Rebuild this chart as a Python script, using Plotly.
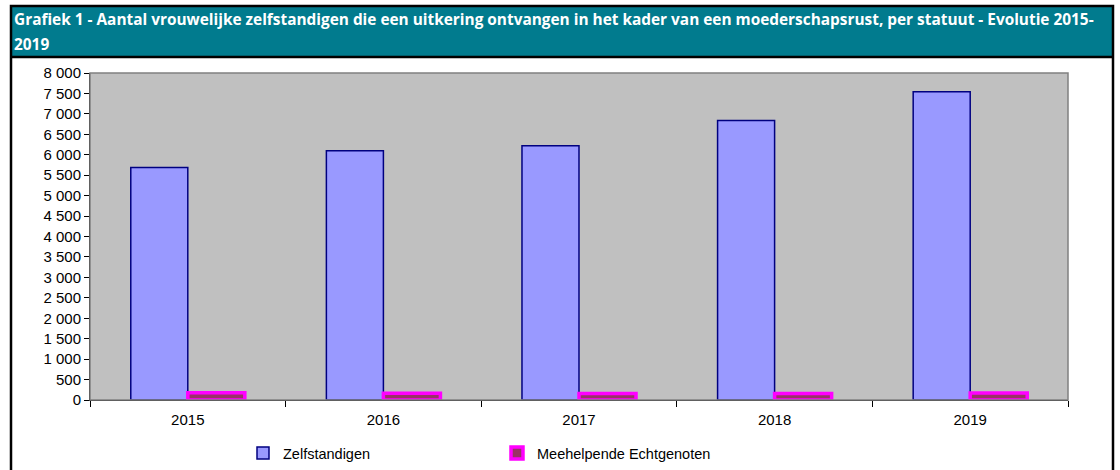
import plotly.graph_objects as go

years = ["2015", "2016", "2017", "2018", "2019"]
zelfstandigen = [5690, 6100, 6220, 6840, 7540]
meehelpende = [180, 165, 160, 160, 170]
y_ticks = list(range(0, 8001, 500))

title_line1 = ("Grafiek 1 - Aantal vrouwelijke zelfstandigen die een uitkering ontvangen in het kader "
               "van een moederschapsrust, per statuut - Evolutie 2015-")
title_line2 = "2019"

W, H = 1120, 470
L, R, T, B = 90, 1068, 73, 400


def px(x):
    return (x - L) / (R - L)


def py(y):
    return (B - y) / (B - T)


fig = go.Figure()
fig.add_trace(go.Bar(
    x=years, y=zelfstandigen, name="Zelfstandigen",
    marker=dict(color="#9999FF", line=dict(color="#000080", width=1.5)),
))
fig.add_trace(go.Bar(
    x=years, y=meehelpende, name="Meehelpende Echtgenoten",
    marker=dict(color="#993366", line=dict(color="#FF00FF", width=3.5)),
))

shapes = [
    # title band
    dict(type="rect", xref="paper", yref="paper", x0=px(11), x1=px(1113), y0=py(57), y1=py(6),
         fillcolor="#017B8E", line=dict(width=0), layer="below"),
    # outer border
    dict(type="rect", xref="paper", yref="paper", x0=px(11), x1=px(1113), y0=py(480), y1=py(6),
         fillcolor="rgba(0,0,0,0)", line=dict(color="black", width=2.5)),
    # separator below title
    dict(type="line", xref="paper", yref="paper", x0=px(11), x1=px(1113), y0=py(57), y1=py(57),
         line=dict(color="black", width=2.5)),
]

title_font = dict(family="Open Sans", size=15.4, color="white", weight="bold")

fig.update_layout(
    width=W, height=H,
    margin=dict(l=L, r=W - R, t=T, b=H - B, autoexpand=False),
    paper_bgcolor="white",
    plot_bgcolor="#C0C0C0",
    barmode="group",
    bargap=0.417,
    bargroupgap=0,
    separators=", ",
    font=dict(family="Liberation Sans, Arial", size=15, color="black"),
    shapes=shapes,
    annotations=[
        dict(text=title_line1, xref="paper", yref="paper", x=px(12), y=py(19),
             xanchor="left", yanchor="middle", align="left", showarrow=False, font=title_font),
        dict(text=title_line2, xref="paper", yref="paper", x=px(12), y=py(45),
             xanchor="left", yanchor="middle", align="left", showarrow=False, font=title_font),
    ],
    showlegend=True,
    legend=dict(
        orientation="h", x=px(243), xanchor="left", y=py(437), yanchor="top",
        font=dict(size=14.5, family="Liberation Sans, Arial"),
        entrywidth=209, itemwidth=30, bgcolor="rgba(0,0,0,0)",
    ),
    xaxis=dict(
        type="category", showgrid=False, ticks="outside", tickson="boundaries",
        ticklen=6, tickcolor="black", linecolor="black", showline=True, mirror=False,
        tickfont=dict(size=15), ticklabelstandoff=6,
    ),
    yaxis=dict(
        range=[0, 8000], tickvals=y_ticks, tickformat=",d", showgrid=False,
        ticks="outside", ticklen=5, tickcolor="black", showline=True, linecolor="black",
        zeroline=False, tickfont=dict(size=15),
    ),
)

# grey plot border
fig.add_shape(type="rect", xref="paper", yref="paper", x0=0, x1=1, y0=0, y1=1,
              line=dict(color="#808080", width=1.5), fillcolor="rgba(0,0,0,0)")

fig.write_html(
    "out.html",
    config={"displayModeBar": False},
    post_script="document.body.style.margin='0';document.body.style.overflow='hidden';",
)
